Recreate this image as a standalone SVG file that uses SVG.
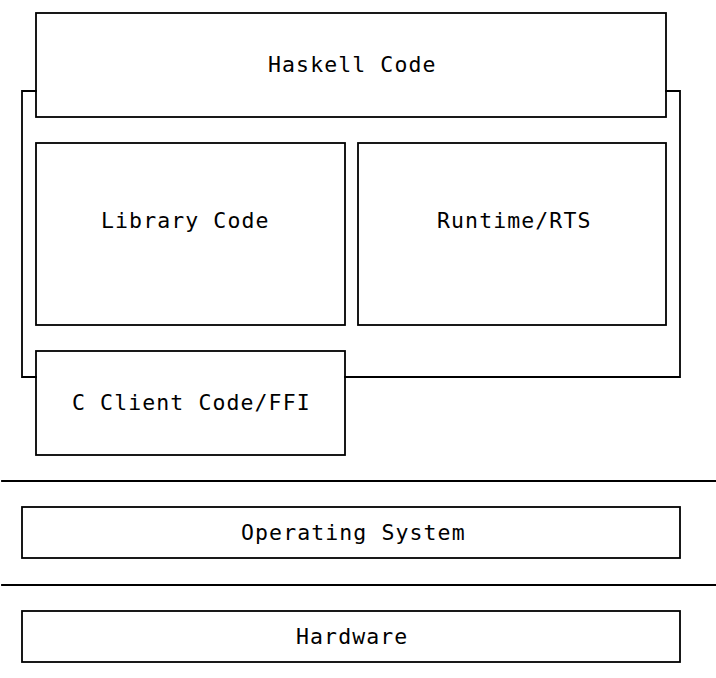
<svg xmlns="http://www.w3.org/2000/svg" width="716" height="678" viewBox="0 0 716 678">
<style>
.b{fill:none;stroke:#000;stroke-width:1.8;stroke-linejoin:miter;stroke-linecap:square}
.t{font-family:"DejaVu Sans Mono","Liberation Mono",monospace;font-size:21.5px;letter-spacing:1.1px;fill:#000}
</style>
<rect width="716" height="678" fill="#fff"/>
<g id="connectors">
<path class="b" d="M36,91 H22 V377 H36"/>
<path class="b" d="M666,91 H680 V377 H345"/>
<path class="b" d="M2,481 H716"/>
<path class="b" d="M2,585 H716"/>
</g>
<g id="haskell"><rect class="b" x="36" y="13" width="630" height="104"/><text class="t" x="268" y="72">Haskell Code</text></g>
<g id="library"><rect class="b" x="36" y="143" width="309" height="182"/><text class="t" x="101" y="228">Library Code</text></g>
<g id="runtime"><rect class="b" x="358" y="143" width="308" height="182"/><text class="t" x="437" y="228">Runtime/RTS</text></g>
<g id="cclient"><rect class="b" x="36" y="351" width="309" height="104"/><text class="t" x="72" y="410">C Client Code/FFI</text></g>
<g id="os"><rect class="b" x="22" y="507" width="658" height="51"/><text class="t" x="241" y="540">Operating System</text></g>
<g id="hardware"><rect class="b" x="22" y="611" width="658" height="51"/><text class="t" x="296" y="644">Hardware</text></g>
</svg>
